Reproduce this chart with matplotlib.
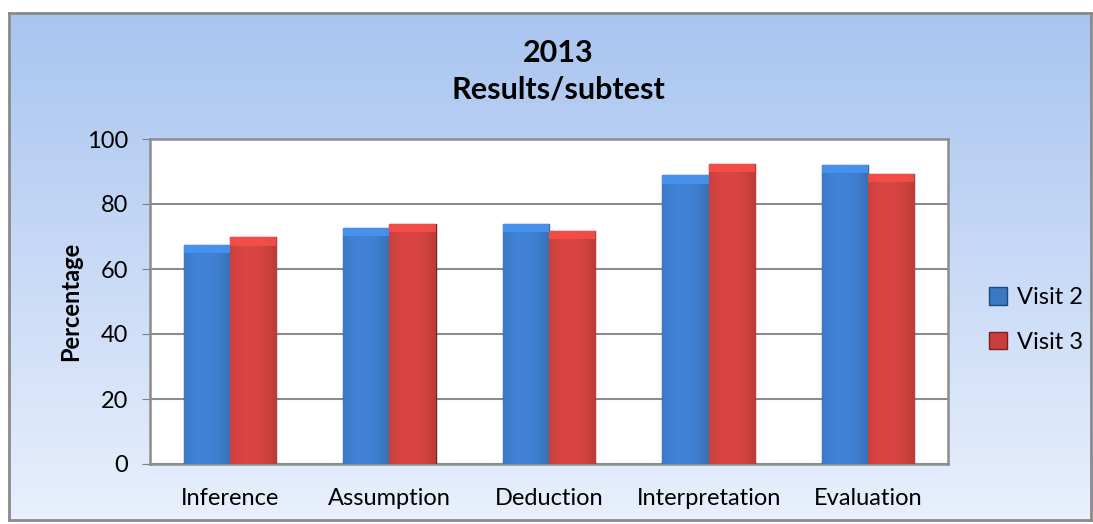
import numpy as np
import matplotlib
matplotlib.use("Agg")
import matplotlib.pyplot as plt
from matplotlib.patches import Rectangle

plt.rcParams['font.family'] = ['Lato', 'DejaVu Sans']

categories = ["Inference", "Assumption", "Deduction", "Interpretation", "Evaluation"]
visit2 = [67.5, 72.7, 74.0, 88.8, 92.0]
visit3 = [69.7, 74.0, 71.6, 92.3, 89.2]
series_names = ["Visit 2", "Visit 3"]
yticks = [0, 20, 40, 60, 80, 100]

W, H = 1093, 524
fig = plt.figure(figsize=(W / 100, H / 100), dpi=100)

# background panel with vertical gradient
bg = fig.add_axes([9 / W, 1 - 520 / H, 1082 / W, 507 / H], zorder=-10)
grad = np.linspace(0, 1, 256).reshape(-1, 1)
top = np.array([0.66, 0.77, 0.94])
bot = np.array([0.91, 0.94, 0.99])
img = top[None, None, :] * (1 - grad[:, :, None]) + bot[None, None, :] * grad[:, :, None]
bg.imshow(img, aspect='auto', extent=[0, 1, 0, 1])
bg.set_xlim(0, 1)
bg.set_ylim(0, 1)
for s in bg.spines.values():
    s.set_color('#8a8a8a')
    s.set_linewidth(2)
bg.set_xticks([])
bg.set_yticks([])

ax = fig.add_axes([150 / W, 1 - 464 / H, 798 / W, 325 / H])
ax.set_facecolor('white')

x = np.arange(len(categories))
w = 0.29
colors = ['#3b78c4', '#c8403c']
edges = ['#1f4a80', '#7a1f1c']

def shaded_bars(xs, vals, color, edge, label):
    bars = ax.bar(xs, vals, w, color=color, edgecolor=edge, linewidth=1.0,
                  label=label, zorder=3)
    base = np.array(matplotlib.colors.to_rgb(color))
    g = np.linspace(0, 1, 64)
    shade = 0.85 + 0.3 * np.sin(np.pi * (0.25 + 0.6 * g))
    strip = np.clip(base[None, :] * shade[:, None] * 0.95, 0, 1)[None, :, :]
    for b in bars:
        im = ax.imshow(strip, aspect='auto', zorder=3.5,
                       extent=[b.get_x(), b.get_x() + b.get_width(), 0, b.get_height()])
        im.set_clip_path(b)
        # lighter bevel at the top
        h = min(2.5, b.get_height())
        top_patch = Rectangle((b.get_x(), b.get_height() - h), b.get_width(), h,
                              facecolor=np.clip(base * 1.25, 0, 1), edgecolor='none',
                              zorder=3.6, alpha=0.8)
        ax.add_patch(top_patch)
    return bars

shaded_bars(x - w / 2, visit2, colors[0], edges[0], series_names[0])
shaded_bars(x + w / 2, visit3, colors[1], edges[1], series_names[1])

ax.set_xlim(-0.5, len(categories) - 0.5)
ax.set_ylim(0, 100)
ax.set_yticks(yticks)
ax.set_xticks(x)
ax.set_xticklabels(categories)
ax.tick_params(axis='x', length=0, labelsize=17, pad=17)
ax.tick_params(axis='y', labelsize=17, direction='out', length=6, color='#7f7f7f', pad=10)
ax.grid(axis='y', color='#8c8c8c', linewidth=1.5, zorder=0)
ax.set_axisbelow(True)
for s in ax.spines.values():
    s.set_color('#8c8c8c')
    s.set_linewidth(1.8)
ax.set_ylabel("Percentage", fontsize=17, fontweight='bold', labelpad=3)

fig.text(558 / W, 1 - 53 / H, "2013", ha='center', va='center',
         fontsize=22, fontweight='bold')
fig.text(558 / W, 1 - 90 / H, "Results/subtest", ha='center',
         va='center', fontsize=22, fontweight='bold')

leg = ax.legend(loc='center left', bbox_to_anchor=(1.04, 0.443), frameon=False,
                fontsize=17, handlelength=0.75, handleheight=0.75, handletextpad=0.4,
                labelspacing=1.0, borderaxespad=0)

fig.savefig("out.png", dpi=100, facecolor='white')
